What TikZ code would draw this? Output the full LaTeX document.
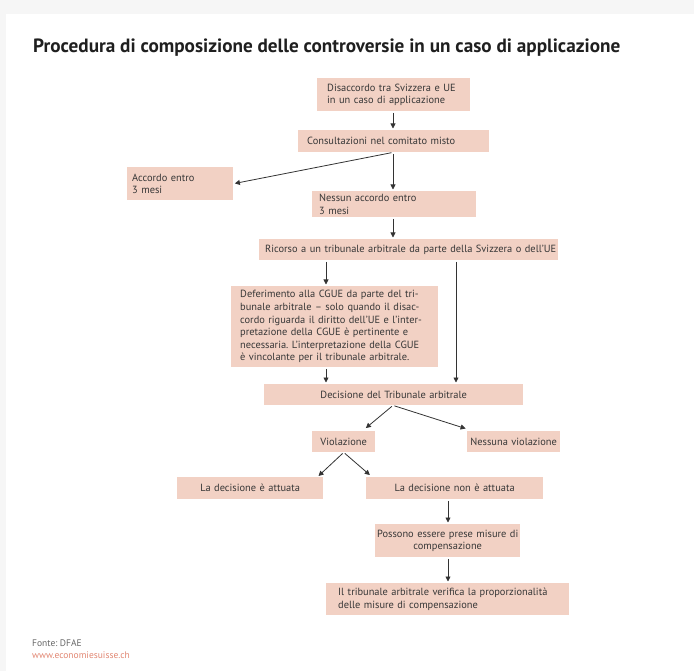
\documentclass[tikz,border=0pt]{standalone}
\usepackage{fontspec}
\setmainfont{PT Sans}
\usetikzlibrary{arrows.meta}
\definecolor{boxfill}{RGB}{242,209,196}
\definecolor{txt}{RGB}{55,55,55}
\definecolor{bg}{RGB}{246,246,246}
\definecolor{linkc}{RGB}{226,135,115}
\frenchspacing
\begin{document}
\begin{tikzpicture}[x=1pt,y=-1pt,
  box/.style={fill=boxfill, draw=none, anchor=north west, inner ysep=0pt,
    font=\fontsize{10.4}{12.6}\selectfont, text=txt},
  arr/.style={draw=black!80, line width=0.8pt, -{Triangle[length=5pt,width=5pt]},
    shorten <=1.5pt, shorten >=1.5pt}]
\useasboundingbox (0,0) rectangle (694,671);
\fill[bg] (0,0) rectangle (694,671);
\fill[white] (6,14) rectangle (694,671);

\node[anchor=base west, inner sep=0pt, font=\fontsize{19.2}{20}\selectfont\bfseries, text=black!88] (title) at (33,52.5)
  {Procedura di composizione delle controversie in un caso di applicazione};

\node[box, text width=133pt, inner xsep=10pt, minimum height=33pt, align=left] (dis) at (317,78)
  {\mbox{Disaccordo tra Svizzera e UE}\\\mbox{in un caso di applicazione}};
\node[box, text width=173pt, inner xsep=9pt, minimum height=22pt, align=left] (cons) at (298,130)
  {\mbox{Consultazioni nel comitato misto}};
\node[box, text width=96pt, inner xsep=5pt, minimum height=33pt, align=left] (acc) at (127,167)
  {\mbox{Accordo entro}\\\mbox{3 mesi}};
\node[box, text width=150pt, inner xsep=7pt, minimum height=26pt, align=left] (nes) at (312,191)
  {\mbox{Nessun accordo entro}\\\mbox{3 mesi}};
\node[box, text width=287pt, inner xsep=6pt, minimum height=21pt, align=left] (ric) at (259,239)
  {\mbox{Ricorso a un tribunale arbitrale da parte della Svizzera o dell’UE}};
\node[box, text width=189pt, inner xsep=9pt, minimum height=81pt, align=left] (def) at (231,286)
  {\mbox{Deferimento alla CGUE da parte del tri-}\\
   \mbox{bunale arbitrale – solo quando il disac-}\\
   \mbox{cordo riguarda il diritto dell’UE e l’inter-}\\
   \mbox{pretazione della CGUE è pertinente e}\\
   \mbox{necessaria. L’interpretazione della CGUE}\\
   \mbox{è vincolante per il tribunale arbitrale.}};
\node[box, text width=249pt, inner xsep=5pt, minimum height=21pt, align=center] (dec) at (264,384)
  {\mbox{Decisione del Tribunale arbitrale}};
\node[box, text width=57pt, inner xsep=3pt, minimum height=21pt, align=center] (vio) at (312,431)
  {\mbox{Violazione}};
\node[box, text width=89pt, inner xsep=2pt, minimum height=21pt, align=center] (nvio) at (467,431)
  {\mbox{Nessuna violazione}};
\node[box, text width=136pt, inner xsep=5pt, minimum height=22pt, align=center] (att) at (177,477)
  {\mbox{La decisione è attuata}};
\node[box, text width=167pt, inner xsep=5pt, minimum height=22pt, align=center] (natt) at (366,477)
  {\mbox{La decisione non è attuata}};
\node[box, text width=141pt, inner xsep=2pt, minimum height=33pt, align=center] (pos) at (375,524)
  {\mbox{Possono essere prese misure di}\\\mbox{compensazione}};
\node[box, text width=219pt, inner xsep=12pt, minimum height=32pt, align=left] (trib) at (326,583)
  {\mbox{Il tribunale arbitrale verifica la proporzionalità}\\\mbox{delle misure di compensazione}};

\coordinate (c393) at (393,0);
\coordinate (c326) at (326,0);
\coordinate (c456) at (456,0);
\coordinate (c448) at (448,0);

\draw[arr] (dis.south -| c393) -- (cons.north -| c393);
\draw[arr] (cons.south -| c393) -- (acc.east);
\draw[arr] (cons.south -| c393) -- (nes.north -| c393);
\draw[arr] (nes.south -| c393) -- (ric.north -| c393);
\draw[arr] (ric.south -| c326) -- (def.north -| c326);
\draw[arr] (ric.south -| c456) -- (dec.north -| c456);
\draw[arr] (def.south -| c326) -- (dec.north -| c326);
\draw[arr] (dec.south -| c393) -- ([xshift=21pt,yshift=2pt]vio.north);
\draw[arr] (dec.south -| c393) -- ([yshift=2pt]nvio.north west);
\draw[arr] (vio.south) -- ([xshift=-6pt]att.north east);
\draw[arr] (vio.south) -- ([xshift=5pt,yshift=1pt]natt.north west);
\draw[arr] (natt.south -| c448) -- (pos.north -| c448);
\draw[arr] (pos.south -| c448) -- (trib.north -| c448);

\node[anchor=base west, inner sep=0pt, font=\fontsize{9.5}{10}\selectfont, text=black!60] (src) at (32,646) {Fonte: DFAE};
\node[anchor=base west, inner sep=0pt, font=\fontsize{9.5}{10}\selectfont, text=linkc] (url) at (32,658) {www.economiesuisse.ch};
\end{tikzpicture}
\end{document}
